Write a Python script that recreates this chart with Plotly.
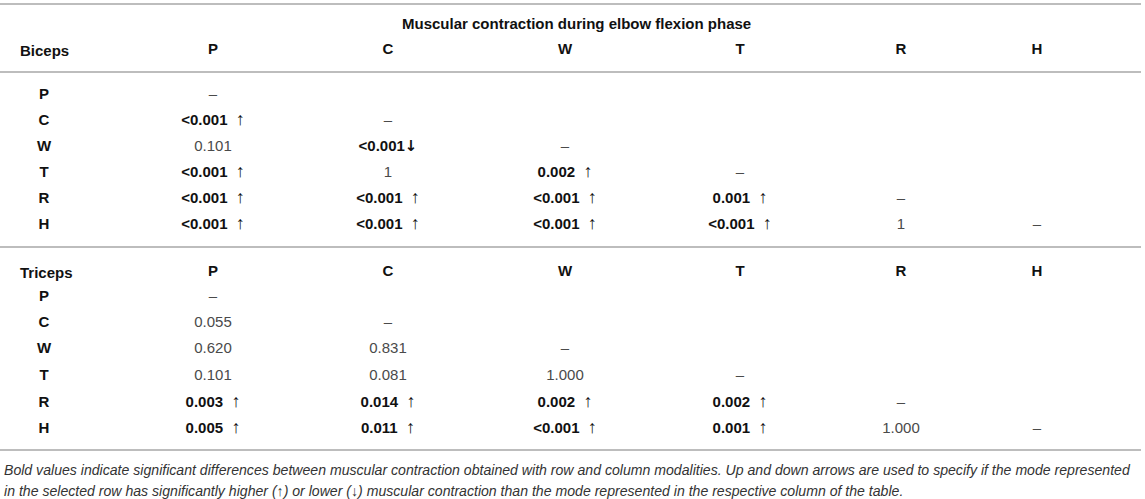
import plotly.graph_objects as go

# ---------------- data ----------------
modes = ["P", "C", "W", "T", "R", "H"]
table_title = "Muscular contraction during elbow flexion phase"
muscles = ["Biceps", "Triceps"]

biceps_p = [
    ["–"],
    ["<0.001", "–"],
    ["0.101", "<0.001", "–"],
    ["<0.001", "1", "0.002", "–"],
    ["<0.001", "<0.001", "<0.001", "0.001", "–"],
    ["<0.001", "<0.001", "<0.001", "<0.001", "1", "–"],
]
biceps_dir = [
    [""],
    ["up", ""],
    ["", "down", ""],
    ["up", "", "up", ""],
    ["up", "up", "up", "up", ""],
    ["up", "up", "up", "up", "", ""],
]

triceps_p = [
    ["–"],
    ["0.055", "–"],
    ["0.620", "0.831", "–"],
    ["0.101", "0.081", "1.000", "–"],
    ["0.003", "0.014", "0.002", "0.002", "–"],
    ["0.005", "0.011", "<0.001", "0.001", "1.000", "–"],
]
triceps_dir = [
    [""],
    ["", ""],
    ["", "", ""],
    ["", "", "", ""],
    ["up", "up", "up", "up", ""],
    ["up", "up", "up", "up", "", ""],
]

footnote_lines = [
    "Bold values indicate significant differences between muscular contraction obtained with row and column modalities. "
    "Up and down arrows are used to specify if the mode represented",
    "in the selected row has significantly higher (↑) or lower (↓) muscular contraction than the mode represented "
    "in the respective column of the table.",
]

# ---------------- layout constants ----------------
W, H = 1145, 499
FONT = "Liberation Sans, Arial, Helvetica, sans-serif"
COL_X = [213, 388, 565, 740, 901, 1037]
LABEL_X = 44
NAME_X = 18
TITLE_X, TITLE_Y = 576, 23
BLOCKS = [
    dict(header_y=50, rows_y=[95, 121, 147, 173, 199, 225]),
    dict(header_y=272, rows_y=[297, 323, 349, 376, 403, 429]),
]
RULES_Y = [4, 72, 247, 450]
FOOT_Y = [470, 491]
RULE_COLOR = "#bdbdbd"
DARK = "#111111"
LIGHT = "#4a4a4a"
FS = 15
FOOT_FS = 14.1


def esc(s):
    return s.replace("<", "&lt;").replace(">", "&gt;")


def cell_text(p, d):
    if d == "up":
        return "<b>" + esc(p) + "</b>\u00a0\u00a0" + '<span style="font-size:18px">↑</span>'
    if d == "down":
        return ("<b>" + esc(p) + "</b>"
                + '<span style="font-family:DejaVu Sans;font-weight:bold">↓</span>')
    return esc(p)


fig = go.Figure()

for bi, (pvals, dirs) in enumerate([(biceps_p, biceps_dir), (triceps_p, triceps_dir)]):
    blk = BLOCKS[bi]
    fig.add_trace(go.Scatter(
        x=COL_X, y=[blk["header_y"]] * len(modes), mode="text",
        text=["<b>" + m + "</b>" for m in modes],
        textposition="middle center",
        textfont=dict(family=FONT, size=FS, color=DARK),
        hoverinfo="skip", showlegend=False,
    ))
    fig.add_trace(go.Scatter(
        x=[LABEL_X] * len(modes), y=blk["rows_y"], mode="text",
        text=["<b>" + m + "</b>" for m in modes],
        textposition="middle center",
        textfont=dict(family=FONT, size=FS, color=DARK),
        hoverinfo="skip", showlegend=False,
    ))
    xs, ys, ts, cs = [], [], [], []
    for ri, row in enumerate(pvals):
        for ci, p in enumerate(row):
            d = dirs[ri][ci]
            xs.append(COL_X[ci])
            ys.append(blk["rows_y"][ri])
            ts.append(cell_text(p, d))
            cs.append(DARK if d else LIGHT)
    fig.add_trace(go.Scatter(
        x=xs, y=ys, mode="text", text=ts,
        textposition="middle center",
        textfont=dict(family=FONT, size=FS, color=cs),
        hoverinfo="skip", showlegend=False,
    ))
    fig.add_annotation(
        x=NAME_X, y=blk["header_y"], xref="x", yref="y",
        text="<b>" + muscles[bi] + "</b>", showarrow=False,
        xanchor="left", yanchor="middle",
        font=dict(family=FONT, size=FS, color=DARK),
    )

fig.add_annotation(
    x=TITLE_X, y=TITLE_Y, xref="x", yref="y",
    text="<b>" + table_title + "</b>", showarrow=False,
    xanchor="center", yanchor="middle",
    font=dict(family=FONT, size=FS, color=DARK),
)

for i, line in enumerate(footnote_lines):
    fig.add_annotation(
        x=2, y=FOOT_Y[i], xref="x", yref="y",
        text="<i>" + line + "</i>", showarrow=False,
        xanchor="left", yanchor="middle", align="left",
        font=dict(family=FONT, size=FOOT_FS, color="#333333"),
    )

for yy in RULES_Y:
    fig.add_shape(type="line", xref="x", yref="y", x0=0, x1=1141, y0=yy, y1=yy,
                  line=dict(color=RULE_COLOR, width=2))

fig.update_xaxes(range=[0, W], visible=False, fixedrange=True)
fig.update_yaxes(range=[H, 0], visible=False, fixedrange=True)
fig.update_layout(
    width=W, height=H,
    margin=dict(l=0, r=0, t=0, b=0),
    paper_bgcolor="white", plot_bgcolor="white",
    showlegend=False,
)

fig.write_html(
    "out.html",
    config={"displayModeBar": False},
    post_script="document.body.style.margin='0';document.body.style.overflow='hidden';",
)
